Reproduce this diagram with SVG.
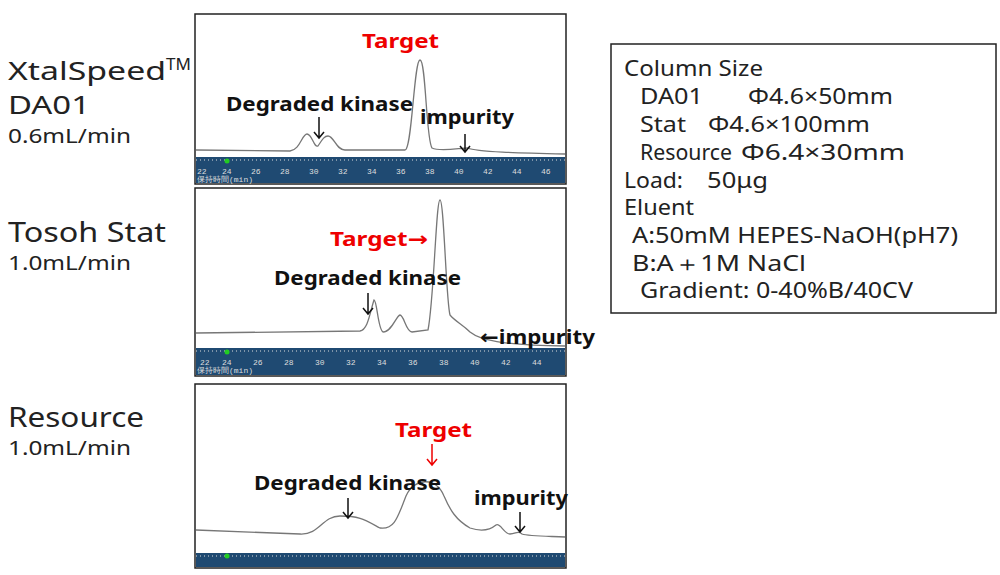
<svg xmlns="http://www.w3.org/2000/svg" width="1000" height="575" viewBox="0 0 1000 575">
<style>
.l{font-family:"Noto Sans","DejaVu Sans",sans-serif;fill:#222}
.b{font-family:"Noto Sans","DejaVu Sans",sans-serif;font-weight:bold;font-size:20px;fill:#111}
.r{fill:#e00}
.tr{fill:none;stroke:#777;stroke-width:1.3}
.ar{fill:none;stroke:#111;stroke-width:1.5}
.ax{fill:#1f4a72}
.tk{fill:#ddd;font-family:"Liberation Mono",monospace;font-size:8px}
.box{font-family:"Noto Sans","DejaVu Sans",sans-serif;font-size:21px;fill:#222}
</style>
<rect width="1000" height="575" fill="#fff"/>
<g id="labels">
<text class="l" x="8" y="80" font-size="26" textLength="158" lengthAdjust="spacingAndGlyphs">XtalSpeed</text>
<text class="l" x="166" y="70" font-size="17">TM</text>
<text class="l" x="8" y="114" font-size="26" textLength="82" lengthAdjust="spacingAndGlyphs">DA01</text>
<text class="l" x="8" y="143" font-size="19" textLength="123" lengthAdjust="spacingAndGlyphs">0.6mL/min</text>
<text class="l" x="8" y="242" font-size="28" textLength="158" lengthAdjust="spacingAndGlyphs">Tosoh Stat</text>
<text class="l" x="8" y="270" font-size="19" textLength="123" lengthAdjust="spacingAndGlyphs">1.0mL/min</text>
<text class="l" x="8" y="427" font-size="28" textLength="136" lengthAdjust="spacingAndGlyphs">Resource</text>
<text class="l" x="8" y="455" font-size="19" textLength="123" lengthAdjust="spacingAndGlyphs">1.0mL/min</text>
</g>
<g id="chart1">
<rect x="195" y="14" width="371" height="170" fill="#fff" stroke="#222" stroke-width="1.5"/>
<rect class="ax" x="196" y="157" width="369" height="26"/>
<path d="M196 160 H565" stroke="#ddd" stroke-width="1" stroke-dasharray="1 3"/>
<circle cx="227" cy="161" r="2.5" fill="#2c2"/>
<g class="tk"><text x="197" y="174">22</text><text x="222" y="174">24</text><text x="251" y="174">26</text><text x="280" y="174">28</text><text x="309" y="174">30</text><text x="338" y="174">32</text><text x="367" y="174">34</text><text x="396" y="174">36</text><text x="425" y="174">38</text><text x="454" y="174">40</text><text x="483" y="174">42</text><text x="512" y="174">44</text><text x="541" y="174">46</text><text x="197" y="182">保持時間(min)</text></g>
<path class="tr" d="M196 150 L290 151 C300 150 302 134 307 134 C312 134 314 148 318 146 C322 140 324 136 328 136 C334 136 336 150 345 150 L405 150 C412 150 414 60 420 60 C426 60 426 140 432 148 C440 152 460 148 468 148 C476 152 520 153 565 154"/>
<text class="b r" x="362" y="48" textLength="77" lengthAdjust="spacingAndGlyphs">Target</text>
<text class="b" x="226" y="111" textLength="187" lengthAdjust="spacingAndGlyphs">Degraded kinase</text>
<path class="ar" d="M319 117 V138 M314 132 L319 138 L324 132"/>
<text class="b" x="420" y="124" textLength="94" lengthAdjust="spacingAndGlyphs">impurity</text>
<path class="ar" d="M465 134 V152 M460 146 L465 152 L470 146"/>
</g>
<g id="chart2">
<rect x="195" y="188" width="371" height="188" fill="#fff" stroke="#222" stroke-width="1.5"/>
<rect class="ax" x="196" y="348" width="369" height="27"/>
<path d="M196 351 H565" stroke="#ddd" stroke-width="1" stroke-dasharray="1 3"/>
<circle cx="227" cy="352" r="2.5" fill="#2c2"/>
<g class="tk"><text x="200" y="365">22</text><text x="222" y="365">24</text><text x="253" y="365">26</text><text x="284" y="365">28</text><text x="315" y="365">30</text><text x="346" y="365">32</text><text x="377" y="365">34</text><text x="408" y="365">36</text><text x="439" y="365">38</text><text x="470" y="365">40</text><text x="501" y="365">42</text><text x="532" y="365">44</text><text x="197" y="373">保持時間(min)</text></g>
<path class="tr" d="M196 333 L360 331 C368 330 370 312 374 300 C377 300 378 330 383 332 C392 332 396 316 400 315 C404 315 406 332 412 332 L428 330 C434 300 436 200 440 200 C444 200 446 300 450 315 C456 322 462 324 470 332 C480 340 500 345 565 346"/>
<text class="b r" x="330" y="246" textLength="98" lengthAdjust="spacingAndGlyphs">Target→</text>
<text class="b" x="274" y="285" textLength="187" lengthAdjust="spacingAndGlyphs">Degraded kinase</text>
<path class="ar" d="M368 293 V314 M363 308 L368 314 L373 308"/>
<text class="b" x="480" y="344" textLength="115" lengthAdjust="spacingAndGlyphs">←impurity</text>
</g>
<g id="chart3">
<rect x="195" y="384" width="371" height="184" fill="#fff" stroke="#222" stroke-width="1.5"/>
<rect class="ax" x="196" y="553" width="369" height="14"/>
<path d="M196 556 H565" stroke="#ddd" stroke-width="1" stroke-dasharray="1 3"/>
<circle cx="227" cy="556" r="2.5" fill="#2c2"/>
<path class="tr" d="M196 530 L300 534 C320 535 322 516 340 516 C360 516 365 520 380 528 C395 530 398 516 406 496 C414 478 436 476 444 496 C450 510 456 520 470 528 C482 532 490 530 496 525 C500 522 504 534 510 534 C516 534 518 530 522 534 C528 536 540 536 565 537"/>
<text class="b r" x="395" y="437" textLength="77" lengthAdjust="spacingAndGlyphs">Target</text>
<path d="M432 444 V465 M427 459 L432 465 L437 459" fill="none" stroke="#e00" stroke-width="1.5"/>
<text class="b" x="254" y="490" textLength="187" lengthAdjust="spacingAndGlyphs">Degraded kinase</text>
<path class="ar" d="M348 498 V518 M343 512 L348 518 L353 512"/>
<text class="b" x="474" y="505" textLength="94" lengthAdjust="spacingAndGlyphs">impurity</text>
<path class="ar" d="M520 512 V532 M515 526 L520 532 L525 526"/>
</g>
<g id="infobox">
<rect x="611" y="44" width="385" height="269" fill="#fff" stroke="#222" stroke-width="1.5"/>
<text class="box" x="624" y="76" textLength="139" lengthAdjust="spacingAndGlyphs">Column Size</text>
<text class="box" x="640" y="104" textLength="63" lengthAdjust="spacingAndGlyphs">DA01</text>
<text class="box" x="748" y="104" textLength="145" lengthAdjust="spacingAndGlyphs">Φ4.6×50mm</text>
<text class="box" x="640" y="132" textLength="46" lengthAdjust="spacingAndGlyphs">Stat</text>
<text class="box" x="708" y="132" textLength="162" lengthAdjust="spacingAndGlyphs">Φ4.6×100mm</text>
<text class="box" x="640" y="160" textLength="92" lengthAdjust="spacingAndGlyphs">Resource</text>
<text class="box" x="741" y="160" textLength="164" lengthAdjust="spacingAndGlyphs">Φ6.4×30mm</text>
<text class="box" x="624" y="188" textLength="59" lengthAdjust="spacingAndGlyphs">Load:</text>
<text class="box" x="707" y="188" textLength="61" lengthAdjust="spacingAndGlyphs">50μg</text>
<text class="box" x="624" y="215" textLength="70" lengthAdjust="spacingAndGlyphs">Eluent</text>
<text class="box" x="632" y="243" textLength="326" lengthAdjust="spacingAndGlyphs">A:50mM HEPES-NaOH(pH7)</text>
<text class="box" x="632" y="271" textLength="174" lengthAdjust="spacingAndGlyphs">B:A＋1M NaCl</text>
<text class="box" x="640" y="298" textLength="273" lengthAdjust="spacingAndGlyphs">Gradient: 0-40%B/40CV</text>
</g>
</svg>
